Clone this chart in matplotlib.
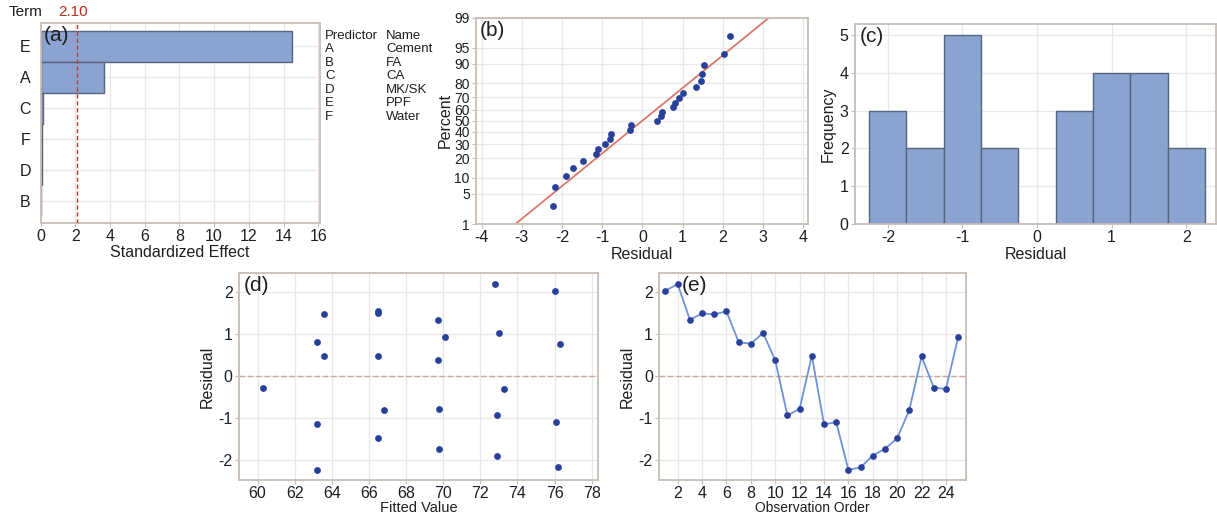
from statistics import NormalDist
import numpy as np
import matplotlib
matplotlib.use('Agg')
import matplotlib.pyplot as plt

plt.rcParams['font.family'] = ['Liberation Sans', 'DejaVu Sans']
plt.rcParams['axes.unicode_minus'] = False

# Pareto of standardized effects
terms = ['A', 'B', 'C', 'D', 'E', 'F']
effects = [3.65, 0.04, 0.15, 0.06, 14.5, 0.08]
critical = 2.10
predictor_names = ['Cement', 'FA', 'CA', 'MK/SK', 'PPF', 'Water']

# Residuals in observation order, with their fitted values
observation = list(range(1, 26))
residuals = [2.02, 2.18, 1.33, 1.48, 1.46, 1.53, 0.80, 0.76, 1.02, 0.37,
             -0.94, -0.78, 0.48, -1.15, -1.10, -2.23, -2.17, -1.89, -1.73, -1.48,
             -0.80, 0.46, -0.28, -0.31, 0.92]
fitted = [76.0, 72.8, 69.7, 66.5, 63.6, 66.5, 63.2, 76.3, 73.0, 69.7,
          72.9, 69.8, 66.5, 63.2, 76.1, 63.2, 76.2, 72.9, 69.8, 66.5,
          66.8, 63.6, 60.3, 73.3, 70.1]
hist_edges = [-2.25, -1.75, -1.25, -0.75, -0.25, 0.25, 0.75, 1.25, 1.75, 2.25]
percent_ticks = [1, 5, 10, 20, 30, 40, 50, 60, 70, 80, 90, 95, 99]

BAR = '#8aa3d1'
BAR_EDGE = '#56657f'
DOT = '#27409a'
FRAME = '#c9bdb5'
GRID = '#ebe7e7'
TXT = '#1e1e1e'

W, H = 1217, 515
fig = plt.figure(figsize=(W / 100, H / 100), dpi=100)


def px_axes(l, t, r, b):
    ax = fig.add_axes([l / W, 1 - b / H, (r - l) / W, (b - t) / H])
    for s in ax.spines.values():
        s.set_color(FRAME)
        s.set_linewidth(1.3)
    ax.tick_params(colors=FRAME, labelcolor=TXT, labelsize=11.5, length=3, width=0.8, pad=1.5)
    ax.grid(True, color=GRID, linewidth=0.9)
    ax.set_axisbelow(True)
    return ax


def panel_label(ax, s, x=0.012):
    ax.text(x, 0.985, s, transform=ax.transAxes, ha='left', va='top',
            fontsize=15, color=TXT, zorder=5)


# (a) Pareto chart
ax = px_axes(40.5, 23, 320, 222.5)
order = np.argsort(effects)[::-1]
sorted_terms = [terms[i] for i in order]
sorted_effects = [effects[i] for i in order]
pos = np.arange(len(terms))[::-1]
ax.barh(pos, sorted_effects, height=1.0, color=BAR, edgecolor=BAR_EDGE, linewidth=1.0, zorder=2)
ax.set_yticks(pos)
ax.set_yticklabels(sorted_terms)
ax.set_xlim(0, 16.1)
ax.set_ylim(-0.7, 5.75)
ax.set_xticks(range(0, 17, 2))
ax.axvline(critical, color='#c0392b', linestyle=(0, (3, 2)), linewidth=1.0, zorder=3)
ax.set_xlabel('Standardized Effect', fontsize=11.5, color=TXT, labelpad=1)
ax.tick_params(axis='y', length=0, pad=7)
ax.text(-0.055, 1.02, 'Term', transform=ax.transAxes, ha='center', va='bottom', fontsize=11, color=TXT)
ax.text(critical / 16.1 - 0.015, 1.02, f'{critical:.2f}', transform=ax.transAxes,
        ha='center', va='bottom', fontsize=11, color='#b5301f')
panel_label(ax, '(a)')

# key of predictor names
fig.text(325 / W, 1 - 36 / H, 'Predictor', fontsize=9.5, color=TXT, va='center', ha='left')
fig.text(386 / W, 1 - 36 / H, 'Name', fontsize=9.5, color=TXT, va='center', ha='left')
for k, (t, n) in enumerate(zip(terms, predictor_names)):
    y = 1 - (49.5 + k * 13.4) / H
    fig.text(325 / W, y, t, fontsize=9.5, color=TXT, va='center', ha='left')
    fig.text(386 / W, y, n, fontsize=9.5, color=TXT, va='center', ha='left')

# (b) Normal probability plot
nd = NormalDist()
ax = px_axes(476, 17.5, 808, 224)
res_sorted = np.sort(residuals)
n = len(res_sorted)
z_pts = [nd.inv_cdf((i - 0.3) / (n + 0.4)) for i in range(1, n + 1)]
mu = np.mean(residuals)
sd = np.std(residuals, ddof=1)
xs = np.array([-4.2, 4.2])
ax.plot(xs, (xs - mu) / sd, color='#d9776b', linewidth=1.3, zorder=2)
ax.scatter(res_sorted, z_pts, s=24, color=DOT, zorder=3, linewidths=0)
ax.set_xlim(-4.14, 4.12)
ax.set_ylim(nd.inv_cdf(0.01), nd.inv_cdf(0.99))
ax.set_yticks([nd.inv_cdf(p / 100) for p in percent_ticks])
ax.set_yticklabels([str(p) for p in percent_ticks])
ax.tick_params(axis='y', labelsize=10)
ax.set_xticks(range(-4, 5))
ax.set_xlabel('Residual', fontsize=11.5, color=TXT, labelpad=1)
ax.set_ylabel('Percent', fontsize=11.5, color=TXT, labelpad=1)
panel_label(ax, '(b)')

# (c) Histogram of residuals
ax = px_axes(855, 24, 1216, 224)
ax.hist(residuals, bins=hist_edges, color=BAR, edgecolor=BAR_EDGE, linewidth=1.0, zorder=2)
ax.set_xlim(-2.44, 2.40)
ax.set_ylim(0, 5.29)
ax.set_xticks([-2, -1, 0, 1, 2])
ax.set_yticks(range(0, 6))
ax.set_xlabel('Residual', fontsize=11.5, color=TXT, labelpad=1)
ax.set_ylabel('Frequency', fontsize=11.5, color=TXT, labelpad=3)
panel_label(ax, '(c)')

# (d) Residuals versus fits
ax = px_axes(239, 273, 598, 480)
ax.axhline(0, color='#c8a89c', linestyle=(0, (4, 2)), linewidth=1.0, zorder=2)
ax.scatter(fitted, residuals, s=24, color=DOT, zorder=3, linewidths=0)
ax.set_xlim(59.0, 78.34)
ax.set_ylim(-2.47, 2.44)
ax.set_xticks(range(60, 79, 2))
ax.set_yticks([-2, -1, 0, 1, 2])
ax.tick_params(axis='x', pad=1)
ax.set_xlabel('Fitted Value', fontsize=10.5, color=TXT, labelpad=0)
ax.set_ylabel('Residual', fontsize=11.5, color=TXT, labelpad=3)
panel_label(ax, '(d)')

# (e) Residuals versus order
ax = px_axes(659, 273, 966, 480)
ax.axhline(0, color='#c8a89c', linestyle=(0, (4, 2)), linewidth=1.0, zorder=2)
ax.plot(observation, residuals, color='#6e92d6', linewidth=1.3, marker='o',
        markersize=3.8, markerfacecolor=DOT, markeredgecolor=DOT, zorder=3)
ax.set_xlim(0.47, 25.64)
ax.set_ylim(-2.47, 2.44)
ax.set_xticks(range(2, 25, 2))
ax.set_yticks([-2, -1, 0, 1, 2])
ax.tick_params(axis='x', pad=1)
ax.set_xlabel('Observation Order', fontsize=10, color=TXT, labelpad=0)
ax.set_ylabel('Residual', fontsize=11.5, color=TXT, labelpad=3)
panel_label(ax, '(e)', x=0.075)

fig.savefig('out.png', dpi=100)
